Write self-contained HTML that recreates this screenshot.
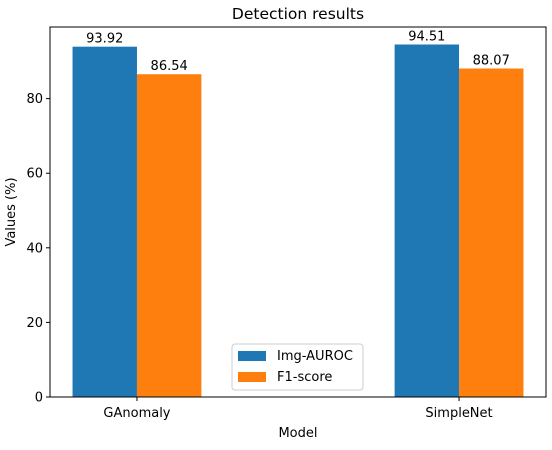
<!DOCTYPE html>
<html><head><meta charset="utf-8"><style>
body{margin:0;background:#fff;}
svg text{font-family:"DejaVu Sans","Liberation Sans",sans-serif;}
</style></head><body>
<svg id="c" width="552" height="445" xmlns="http://www.w3.org/2000/svg"></svg>
<script>
const categories=["GAnomaly","SimpleNet"];
const seriesNames=["Img-AUROC","F1-score"];
const auroc=[93.92,94.51];
const f1=[86.54,88.07];
const yTicks=[0,20,40,60,80];
const colors=["#1f77b4","#ff7f0e"];
const L=50,R=546,T=27,B=397;
const yMax=99.2;
const xMin=-0.27,xMax=1.27;
const ns="http://www.w3.org/2000/svg";
const svg=document.getElementById('c');
const X=v=>L+(v-xMin)/(xMax-xMin)*(R-L);
const Y=v=>B-v/yMax*(B-T);
function mk(t,a,p){const e=document.createElementNS(ns,t);for(const k in a)e.setAttribute(k,a[k]);(p||svg).appendChild(e);return e;}
const w=0.2;
[auroc,f1].forEach((s,si)=>{
 s.forEach((v,i)=>{
  const x0=X(i+(si-1)*w),x1=X(i+si*w);
  const r=mk('rect',{x:x0,y:Y(v),width:x1-x0,height:B-Y(v),fill:colors[si]});
  
  
  const t=mk('text',{x:(x0+x1)/2,y:Y(v)-4,'text-anchor':'middle','font-size':13});
  t.textContent=v.toFixed(2);
  
  
 });
});
const ax=mk('rect',{x:L,y:T,width:R-L,height:B-T,fill:'none',stroke:'#000','stroke-width':1});


yTicks.forEach(v=>{
 mk('line',{x1:L-4,x2:L,y1:Y(v),y2:Y(v),stroke:'#000'});
 const t=mk('text',{x:L-7,y:Y(v)+4.5,'text-anchor':'end','font-size':13});
 t.textContent=v;
 
 
});
categories.forEach((c,i)=>{
 mk('line',{x1:X(i),x2:X(i),y1:B,y2:B+4,stroke:'#000'});
 const t=mk('text',{x:X(i),y:B+20,'text-anchor':'middle','font-size':13});
 t.textContent=c;
 
 
});
let t=mk('text',{x:(L+R)/2,y:19,'text-anchor':'middle','font-size':15.5});t.textContent='Detection results';

t=mk('text',{x:(L+R)/2,y:437,'text-anchor':'middle','font-size':13});t.textContent='Model';

t=mk('text',{x:15,y:(T+B)/2,'text-anchor':'middle','font-size':13,transform:'rotate(-90 15 '+(T+B)/2+')'});t.textContent='Values (%)';

const lg=mk('g',{});
mk('rect',{x:232,y:344,width:131,height:46,fill:'#fff',stroke:'#ccc',rx:3},lg);
seriesNames.forEach((n,i)=>{
 mk('rect',{x:238,y:351+i*21,width:28,height:10,fill:colors[i]},lg);
 const e=mk('text',{x:277,y:360+i*21,'font-size':13},lg);e.textContent=n;
 
});
</script>
</body></html>
